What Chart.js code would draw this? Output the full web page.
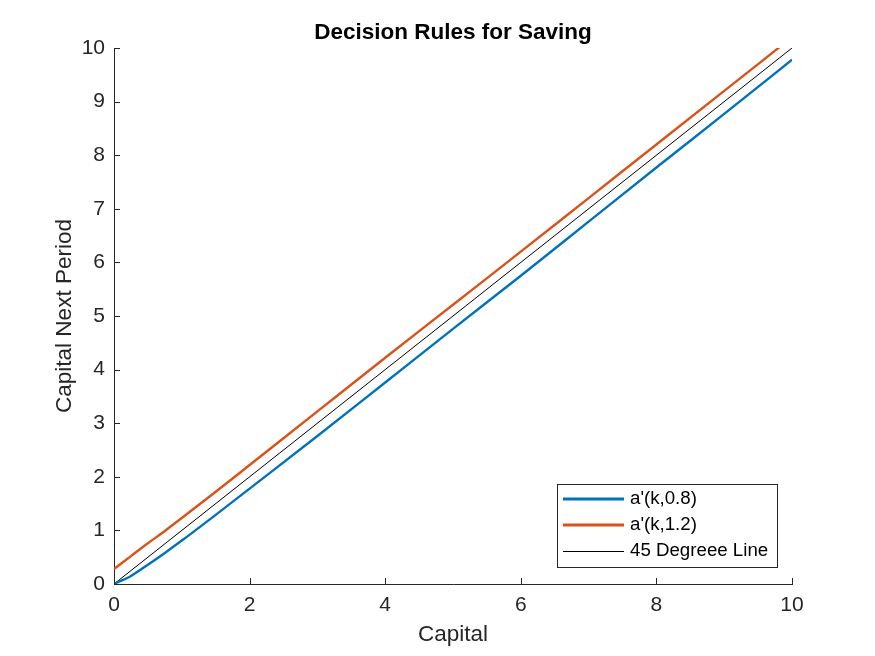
<!DOCTYPE html>
<html>
<head>
<meta charset="utf-8">
<title>Decision Rules for Saving</title>
<script src="https://cdn.jsdelivr.net/npm/chart.js@4.4.0/dist/chart.umd.min.js"></script>
<style>
    html, body { margin: 0; padding: 0; background: #fff; }
    canvas { display: block; }
</style>
</head>
<body>
<canvas id="savingChart" width="875" height="656"></canvas>
<script>
// values
const capital = [0, 0.25, 0.5, 0.75, 1, 1.5, 2, 3, 4, 5, 6, 7, 8, 9, 10];
const saveLow = [0, 0.15, 0.36, 0.58, 0.81, 1.29, 1.78, 2.76, 3.76, 4.76, 5.75, 6.76, 7.77, 8.77, 9.78];
const saveHigh = [0.28, 0.52, 0.76, 0.99, 1.23, 1.72, 2.22, 3.22, 4.22, 5.21, 6.2, 7.2, 8.2, 9.2, 10.2];
const diagonalX = [0, 10];
const diagonalY = [0, 10];
const seriesLabels = ["a'(k,0.8)", "a'(k,1.2)", '45 Degreee Line'];
const xTicks = [0, 2, 4, 6, 8, 10];
const yTicks = [0, 1, 2, 3, 4, 5, 6, 7, 8, 9, 10];

const FONT = '"Liberation Sans", Arial, sans-serif';
const AXIS_COLOR = '#262626';

Chart.defaults.font.family = FONT;

const toPoints = (xs, ys) => xs.map((x, i) => ({ x: x, y: ys[i] }));

// MATLAB style ticks pointing into the plot
const innerTicks = {
    id: 'innerTicks',
    afterDatasetsDraw(chart) {
        const { ctx, chartArea, scales } = chart;
        const len = 6;
        ctx.save();
        ctx.strokeStyle = AXIS_COLOR;
        ctx.lineWidth = 1;
        ctx.beginPath();
        scales.x.ticks.forEach(t => {
            const px = Math.round(scales.x.getPixelForValue(t.value)) + 0.5;
            ctx.moveTo(px, chartArea.bottom);
            ctx.lineTo(px, chartArea.bottom - len);
        });
        scales.y.ticks.forEach(t => {
            const py = Math.round(scales.y.getPixelForValue(t.value)) + 0.5;
            ctx.moveTo(chartArea.left, py);
            ctx.lineTo(chartArea.left + len, py);
        });
        ctx.stroke();
        ctx.restore();
    }
};

// boxed legend in the lower right corner of the axes
const boxLegend = {
    id: 'boxLegend',
    afterDraw(chart) {
        const { ctx, chartArea } = chart;
        const w = 220, h = 83, rowH = 26;
        const left = Math.round(chartArea.right - 15 - w);
        const top = Math.round(chartArea.bottom - 17 - h);
        ctx.save();
        ctx.fillStyle = '#fff';
        ctx.fillRect(left, top, w, h);
        ctx.strokeStyle = AXIS_COLOR;
        ctx.lineWidth = 1;
        ctx.strokeRect(left + 0.5, top + 0.5, w, h);
        ctx.font = '18.7px ' + FONT;
        ctx.textBaseline = 'middle';
        chart.data.datasets.forEach((ds, i) => {
            const thin = ds.borderWidth === 1;
            const y = top + 15 + i * rowH + (thin ? 0.5 : 0);
            ctx.strokeStyle = ds.borderColor;
            ctx.lineWidth = thin ? 1 : 3;
            ctx.beginPath();
            ctx.moveTo(left + 6, y);
            ctx.lineTo(left + 67, y);
            ctx.stroke();
            ctx.fillStyle = '#000';
            ctx.fillText(ds.label, left + 73, top + 15 + i * rowH);
        });
        ctx.restore();
    }
};

new Chart(document.getElementById('savingChart'), {
    type: 'line',
    data: {
        datasets: [{
            label: seriesLabels[0],
            data: toPoints(capital, saveLow),
            borderColor: '#0072BD',
            borderWidth: 2.4,
            pointRadius: 0,
            cubicInterpolationMode: 'monotone'
        }, {
            label: seriesLabels[1],
            data: toPoints(capital, saveHigh),
            borderColor: '#D95319',
            borderWidth: 2.4,
            pointRadius: 0,
            cubicInterpolationMode: 'monotone'
        }, {
            label: seriesLabels[2],
            data: toPoints(diagonalX, diagonalY),
            borderColor: '#000000',
            borderWidth: 1,
            pointRadius: 0
        }]
    },
    options: {
        responsive: false,
        animation: false,
        layout: {
            padding: { top: 0, right: 83, bottom: 0, left: 0 }
        },
        plugins: {
            legend: { display: false },
            tooltip: { enabled: false },
            title: {
                display: true,
                text: 'Decision Rules for Saving',
                fullSize: false,
                color: '#000',
                font: { size: 22.5, weight: 'bold', family: FONT },
                padding: { top: 19.5, bottom: 1.5 }
            }
        },
        scales: {
            x: {
                type: 'linear',
                min: 0,
                max: 10,
                afterBuildTicks: scale => { scale.ticks = xTicks.map(v => ({ value: v })); },
                afterFit: scale => { scale.height = 72; },
                grid: { display: false, drawTicks: false },
                border: { display: true, color: AXIS_COLOR, width: 1 },
                ticks: { color: AXIS_COLOR, padding: 9, font: { size: 21 }, maxRotation: 0 },
                title: {
                    display: true,
                    text: 'Capital',
                    color: AXIS_COLOR,
                    font: { size: 22.5 },
                    padding: { top: 0, bottom: 7.5 }
                }
            },
            y: {
                type: 'linear',
                min: 0,
                max: 10,
                afterBuildTicks: scale => { scale.ticks = yTicks.map(v => ({ value: v })); },
                afterFit: scale => { scale.width = 114; },
                grid: { display: false, drawTicks: false },
                border: { display: true, color: AXIS_COLOR, width: 1 },
                ticks: { color: AXIS_COLOR, padding: 9, font: { size: 21 } },
                title: {
                    display: true,
                    text: 'Capital Next Period',
                    color: AXIS_COLOR,
                    font: { size: 22.5 },
                    padding: { top: 51.5, bottom: 0 }
                }
            }
        }
    },
    plugins: [innerTicks, boxLegend]
});
</script>
</body>
</html>
